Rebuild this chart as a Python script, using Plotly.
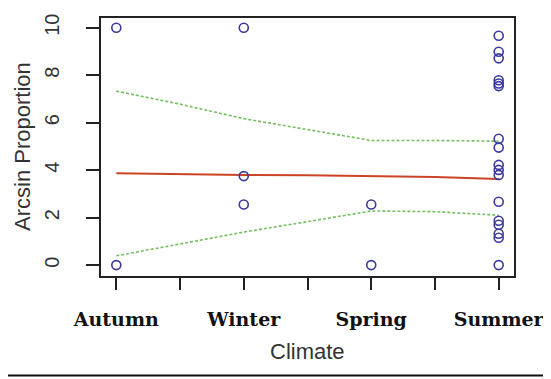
import plotly.graph_objects as go

# ---- data ----
climate_labels = ["Autumn", "Winter", "Spring", "Summer"]
autumn_vals = [10, 0]
winter_vals = [10, 3.75, 2.55]
spring_vals = [2.55, 0]
summer_vals = [9.66, 8.99, 8.71, 7.79, 7.65, 7.54, 5.32, 4.95, 4.22, 4.01,
               3.80, 2.67, 1.87, 1.70, 1.32, 1.15, 0]

line_x = [1, 1.5, 2, 2.5, 3, 3.5, 4]
fit_vals = [3.87, 3.83, 3.80, 3.79, 3.75, 3.71, 3.63]
upper_vals = [7.33, 6.78, 6.17, 5.71, 5.25, 5.25, 5.22]
lower_vals = [0.39, 0.89, 1.39, 1.83, 2.28, 2.25, 2.10]

y_ticks = [0, 2, 4, 6, 8, 10]
x_tick_vals = [1, 1.5, 2, 2.5, 3, 3.5, 4]
x_tick_text = ["Autumn", "", "Winter", "", "Spring", "", "Summer"]

groups = [autumn_vals, winter_vals, spring_vals, summer_vals]
pts_x, pts_y = [], []
for i, g in enumerate(groups):
    pts_x += [i + 1] * len(g)
    pts_y += g

# page body has an 8px margin; figure sized to fit the window
OFF = 8
W, H = 551 - OFF, 379 - OFF
ml, mr, mt, mb = 101 - OFF, 37, 14 - OFF, 103
pw, ph = W - ml - mr, H - mt - mb


def px(xw):
    return (xw - OFF - ml) / pw


def py(yw):
    return (mt + ph - (yw - OFF)) / ph


fig = go.Figure()
fig.add_trace(go.Scatter(x=line_x, y=upper_vals, mode="lines",
                         line=dict(color="#72c060", width=1.6, dash="3px,2px"),
                         hoverinfo="skip"))
fig.add_trace(go.Scatter(x=line_x, y=lower_vals, mode="lines",
                         line=dict(color="#72c060", width=1.6, dash="3px,2px"),
                         hoverinfo="skip"))
fig.add_trace(go.Scatter(x=line_x, y=fit_vals, mode="lines",
                         line=dict(color="#cc4426", width=2),
                         hoverinfo="skip"))
fig.add_trace(go.Scatter(x=pts_x, y=pts_y, mode="markers",
                         marker=dict(symbol="circle-open", size=9,
                                     color="#3a3a9c", line=dict(width=1.6, color="#3a3a9c"))))

fig.update_layout(
    width=W, height=H,
    margin=dict(l=ml, r=mr, t=mt, b=mb),
    paper_bgcolor="white", plot_bgcolor="white",
    showlegend=False,
    xaxis=dict(range=[0.88, 4.12], tickmode="array", tickvals=x_tick_vals,
               ticktext=x_tick_text, ticks="outside", ticklen=12, tickwidth=1.5,
               tickcolor="#222", showgrid=False, zeroline=False,
               showline=True, mirror=True, linecolor="#222", linewidth=1.5,
               ticklabelstandoff=13,
               tickfont=dict(family="DejaVu Serif", size=19, color="#111", weight="bold")),
    yaxis=dict(range=[-0.46, 10.41], tickmode="array", tickvals=y_ticks,
               ticks="outside", ticklen=13, tickwidth=1.5, tickcolor="#222",
               showgrid=False, zeroline=False,
               showline=True, mirror=True, linecolor="#222", linewidth=1.5,
               tickangle=-90, ticklabelstandoff=19,
               tickfont=dict(family="Liberation Sans", size=20, color="#333")),
    annotations=[
        dict(text="Arcsin Proportion", xref="paper", yref="paper",
             x=px(22), y=py(145), textangle=-90,
             xanchor="center", yanchor="middle", showarrow=False,
             font=dict(family="Liberation Sans", size=22, color="#333")),
        dict(text="Climate", xref="paper", yref="paper",
             x=px(307), y=py(353),
             xanchor="center", yanchor="middle", showarrow=False,
             font=dict(family="Liberation Sans", size=22, color="#333")),
    ],
    shapes=[dict(type="rect", xref="paper", yref="paper",
                 x0=px(-20), x1=px(546),
                 y0=py(377), y1=py(-20),
                 line=dict(color="#111", width=2))],
)

fig.write_html("out.html")
